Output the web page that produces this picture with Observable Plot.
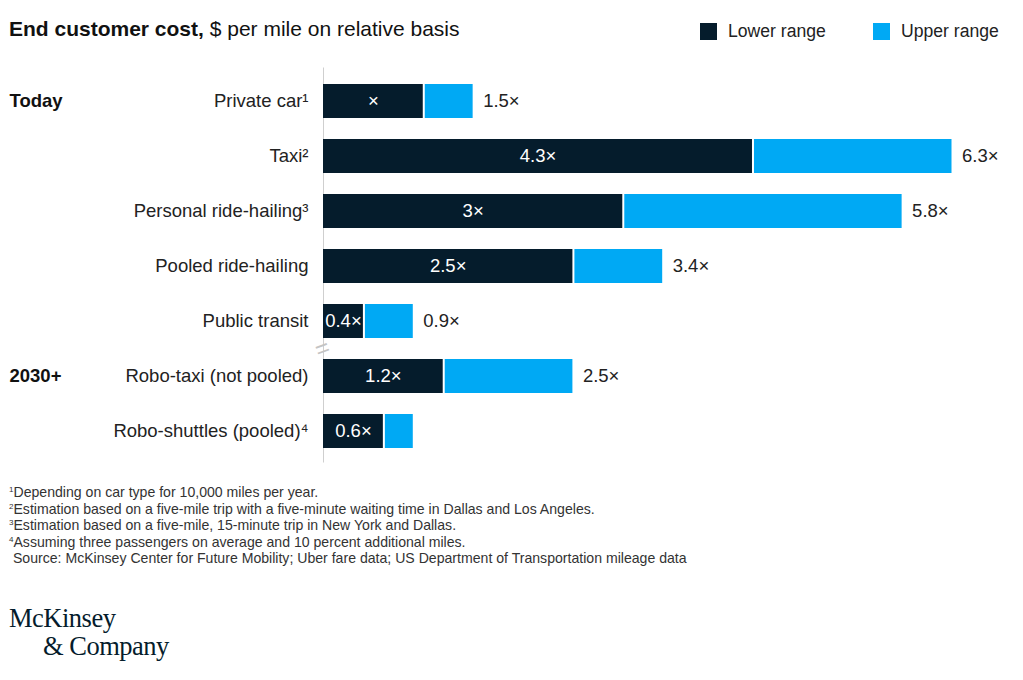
<!DOCTYPE html>
<html>
<head>
<meta charset="utf-8">
<script src="https://cdn.jsdelivr.net/npm/d3@7"></script>
<script src="https://cdn.jsdelivr.net/npm/@observablehq/plot@0.6"></script>
<style>
  body { margin: 0; background: #fff; font-family: "Liberation Sans", Arial, sans-serif; color: #222; width: 1023px; height: 680px; position: relative; overflow: hidden; }
  .abs { position: absolute; white-space: nowrap; }
  #title { left: 9px; top: 17px; font-size: 21px; color: #111; }
  #title b { font-weight: 700; }
  .leg { top: 21px; font-size: 17.6px; color: #222; display: flex; align-items: center; }
  .sw { width: 17px; height: 17px; display: inline-block; margin-right: 11px; }
  #chart { left: 0; top: 67px; }
  #notes { left: 9px; top: 484px; font-size: 14.1px; line-height: 16.5px; color: #333; }
  #notes sup { font-size: 8px; vertical-align: 5px; line-height: 0; }
  .logo { font-family: "Liberation Serif", "DejaVu Serif", serif; font-size: 26.5px; line-height: 26px; height: 26px; color: #051c2c; letter-spacing: -0.5px; }
</style>
</head>
<body>
<div id="title" class="abs"><b>End customer cost,</b> $ per mile on relative basis</div>
<div class="abs leg" style="left:700px"><span class="sw" style="background:#051c2c"></span>Lower range</div>
<div class="abs leg" style="left:873px"><span class="sw" style="background:#00a9f4"></span>Upper range</div>
<div id="chart" class="abs"></div>
<div id="notes" class="abs">
<div><sup>1</sup>Depending on car type for 10,000 miles per year.</div>
<div><sup>2</sup>Estimation based on a five-mile trip with a five-minute waiting time in Dallas and Los Angeles.</div>
<div><sup>3</sup>Estimation based on a five-mile, 15-minute trip in New York and Dallas.</div>
<div><sup>4</sup>Assuming three passengers on average and 10 percent additional miles.</div>
<div>&nbsp;Source: McKinsey Center for Future Mobility; Uber fare data; US Department of Transportation mileage data</div>
</div>
<div class="abs logo" style="left:9px; top:605px">McKinsey</div>
<div class="abs logo" style="left:43px; top:633px">&amp; Company</div>
<script>
const categories = ["Private car", "Taxi", "Personal ride-hailing", "Pooled ride-hailing", "Public transit", "Robo-taxi (not pooled)", "Robo-shuttles (pooled)"];
const tickLabels = ["Private car¹", "Taxi²", "Personal ride-hailing³", "Pooled ride-hailing", "Public transit", "Robo-taxi (not pooled)", "Robo-shuttles (pooled)⁴"];
const lowerRange = [1, 4.3, 3, 2.5, 0.4, 1.2, 0.6];
const upperRange = [1.5, 6.3, 5.8, 3.4, 0.9, 2.5, 0.9];
const lowerLabels = ["×", "4.3×", "3×", "2.5×", "0.4×", "1.2×", "0.6×"];
const upperLabels = ["1.5×", "6.3×", "5.8×", "3.4×", "0.9×", "2.5×", ""];
const groups = ["Today", "2030+"];
const groupRows = ["Private car", "Robo-taxi (not pooled)"];

const rows = categories.map((c, i) => ({cat: c, lo: lowerRange[i], hi: upperRange[i], loLab: lowerLabels[i], hiLab: upperLabels[i]}));
const groupData = groups.map((g, i) => ({label: g, cat: groupRows[i]}));
const labelMap = new Map(categories.map((c, i) => [c, tickLabels[i]]));

const dark = "#051c2c", blue = "#00a9f4";
const fs = 18.5;
const chart = Plot.plot({
  width: 1023,
  height: 400,
  marginLeft: 323,
  marginRight: 71.5,
  marginTop: 7.5,
  marginBottom: 8.5,
  style: {fontFamily: "Liberation Sans, Arial, sans-serif", fontSize: fs + "px", color: "#222", background: "transparent"},
  x: {domain: [0, 6.3], axis: null},
  y: {domain: categories, paddingInner: 0.38, paddingOuter: 0.18, axis: null},
  marks: [
    Plot.axisY({tickSize: 0, tickPadding: 15, tickFormat: d => labelMap.get(d), fontSize: fs, fill: "#222", label: null}),
    Plot.ruleX([0], {stroke: "#cfcfcf", strokeWidth: 1, insetTop: -7, insetBottom: -4}),
    Plot.text(["="], {x: 0, y: () => "Public transit", dy: 27.5, dx: -1, rotate: -20, fill: "#c4c4c4", fontSize: 24, text: d => d}),
    Plot.barX(rows, {y: "cat", x1: 0, x2: "lo", fill: dark}),
    Plot.barX(rows, {y: "cat", x1: "lo", x2: "hi", fill: blue, insetLeft: 2}),
    Plot.text(rows, {y: "cat", x: d => d.lo / 2, text: "loLab", fill: "#fff", fontSize: fs}),
    Plot.text(rows, {y: "cat", x: "hi", text: "hiLab", fill: "#222", dx: 10, textAnchor: "start", fontSize: fs}),
    Plot.text(groupData, {y: "cat", text: "label", frameAnchor: "left", dx: -314, textAnchor: "start", fontWeight: "bold", fill: "#111", fontSize: fs})
  ]
});
document.getElementById("chart").appendChild(chart);
</script>
</body>
</html>
